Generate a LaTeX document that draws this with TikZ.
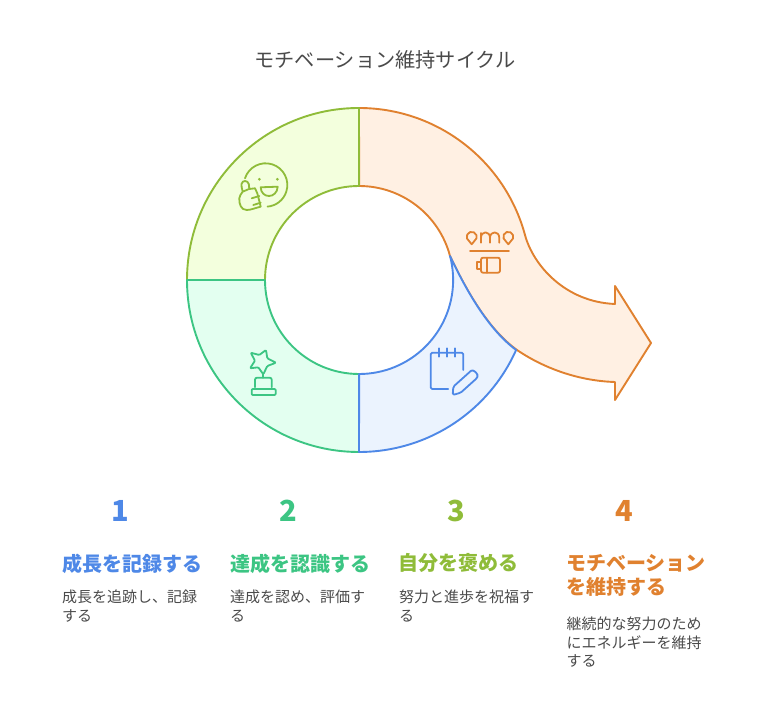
\documentclass[tikz,border=0pt]{standalone}
\usepackage{fontspec}
\setmainfont{Noto Sans CJK JP}
\definecolor{bluel}{HTML}{4E88E7}
\definecolor{greenl}{HTML}{3CC583}
\definecolor{limel}{HTML}{8FBC39}
\definecolor{orangel}{HTML}{E0812F}
\definecolor{bluef}{HTML}{EBF3FE}
\definecolor{greenf}{HTML}{E3FFF0}
\definecolor{limef}{HTML}{F3FFDD}
\definecolor{orangef}{HTML}{FFF0E3}
\definecolor{bodytext}{HTML}{4A4A4A}
\tikzset{
  segment/.style={line width=1.9pt, line join=round},
  icon/.style={line width=1.8pt, line cap=round, line join=round},
  numlabel/.style={anchor=center, inner sep=0pt, font=\fontsize{29}{29}\selectfont\bfseries},
  headlabel/.style={anchor=north west, inner sep=0pt, align=left, font=\fontsize{20}{24.5}\selectfont\bfseries},
  bodylabel/.style={anchor=north west, inner sep=0pt, align=left, text=bodytext, font=\fontsize{15}{18.5}\selectfont},
}
\begin{document}
\begin{tikzpicture}[x=1pt, y=1pt]
  \useasboundingbox (0,0) rectangle (768,720);

  \node[anchor=center, inner sep=0pt, text=bodytext, font=\fontsize{20.2}{24}\selectfont] (title) at (385,660) {モチベーション維持サイクル};

  \filldraw[segment, color=orangel, fill=orangef] (359,612) arc (90:15.2:172)
    .. controls (533,455) and (565,418) .. (615,416)
    -- (615,434) -- (651,377) -- (615,320) -- (615,338)
    .. controls (580,339) and (545,351) .. (517,370)
    .. controls (489,390) and (467,428) .. (450,464)
    arc (14.8:90:94) -- cycle;
  \filldraw[segment, color=limel, fill=limef] (187,440) arc (180:90:172) -- (359,534) arc (90:180:94) -- cycle;
  \filldraw[segment, color=greenl, fill=greenf] (187,440) arc (180:270:172) -- (359,346) arc (270:180:94) -- cycle;
  \filldraw[segment, color=bluel, fill=bluef] (359,268) arc (270:336:172)
    .. controls (489,390) and (467,428) .. (450,464)
    arc (14.8:-90:94) -- cycle;

  % thumb icon
  \draw[icon, color=limel] (245,541.7) arc (162:-85:21.7);
  \draw[icon, color=limel] (260.7,532.7) -- (277.7,533.3) .. controls (277,521) and (261,521) .. (260.7,532.7) -- cycle;
  \fill[limel] (259.3,540.7) circle (1.5) (277.3,540.7) circle (1.5);
  \draw[icon, color=limel] (248.3,530.7) -- (242.7,528.3)
    .. controls (242,532) and (241,534) .. (241.5,536)
    .. controls (242.5,540) and (247.5,540) .. (248.8,536)
    -- (249.3,531) -- (255,531.7) -- (257.3,526.7) -- (259.3,519) -- (260.7,513.3)
    .. controls (255,512) and (251,510) .. (246.7,510)
    .. controls (241,510) and (239,516) .. (239.3,521.7)
    .. controls (239.5,524) and (241,526) .. (242.7,528.3);
  \draw[icon, color=limel] (251.7,521.7) -- (259.3,524) (253.3,515) -- (260.7,517.3);

  % battery icon
  \draw[icon, color=orangel] (471.7,475.7) -- (467,481.5) arc (200:-20:5) -- cycle;
  \draw[icon, color=orangel] (508.3,475.7) -- (503.6,481.5) arc (200:-20:5) -- cycle;
  \draw[icon, color=orangel] (481,477.3) -- (481,487) (481,482) .. controls (481,489.5) and (490,489.5) .. (490,482) -- (490,477.3)
    (490,482) .. controls (490,489.5) and (499.3,489.5) .. (499.3,482) -- (499.3,477.3);
  \draw[icon, color=orangel] (470,469) -- (509,469);
  \draw[icon, color=orangel, rounded corners=2pt] (481,447.3) rectangle (500,462.3);
  \draw[icon, color=orangel] (481,458.3) -- (477,458.3) -- (477,451) -- (481,451) (487.3,462.3) -- (487.3,447.3);

  % notepad icon
  \draw[icon, color=bluel, rounded corners=1.5pt] (463.3,350) -- (463.3,367.3) -- (430.7,367.3) -- (430.7,331) -- (448.3,331);
  \draw[icon, color=bluel] (439,371.7) -- (439,363.3) (447.3,371.7) -- (447.3,363.3) (455,371.7) -- (455,363.3);
  \draw[icon, color=bluel, rounded corners=1.5pt] (452.7,325) -- (453.3,333.3) -- (470,348.3)
    .. controls (473,351) and (479,346) .. (476.7,341.7) -- (460.7,327.3) -- cycle;

  % award icon
  \draw[icon, color=greenl, rounded corners=1pt] (250.7,367.3) -- (259.3,365) -- (266,370) -- (267.3,361.7) -- (276,357.3) -- (267.3,354)
    -- (263.3,345.7) -- (258.3,352.7) -- (250,351.7) -- (255,359.3) -- cycle;
  \draw[icon, color=greenl] (263.3,345.7) -- (263.3,342.3);
  \draw[icon, color=greenl, rounded corners=2pt] (255,332.7) -- (255,342.3) -- (271.7,342.3) -- (271.7,332.7);
  \draw[icon, color=greenl, rounded corners=1pt] (251.7,325) rectangle (275.7,331);

  \node[numlabel, text=bluel] (num1) at (120,209) {1};
  \node[numlabel, text=greenl] (num2) at (288.5,209) {2};
  \node[numlabel, text=limel] (num3) at (456.5,209) {3};
  \node[numlabel, text=orangel] (num4) at (624.5,209) {4};

  \node[headlabel, text=bluel] (head1) at (62,166.5) {成長を記録する};
  \node[headlabel, text=greenl] (head2) at (230,166.5) {達成を認識する};
  \node[headlabel, text=limel] (head3) at (398,166.5) {自分を褒める};
  \node[headlabel, text=orangel] (head4) at (566,166) {モチベーション\\を維持する};

  \node[bodylabel] (body1) at (62,130) {成長を追跡し、記録\\する};
  \node[bodylabel] (body2) at (230,130) {達成を認め、評価す\\る};
  \node[bodylabel] (body3) at (399,130) {努力と進歩を祝福す\\る};
  \node[bodylabel] (body4) at (566.5,103) {継続的な努力のため\\にエネルギーを維持\\する};
\end{tikzpicture}
\end{document}
